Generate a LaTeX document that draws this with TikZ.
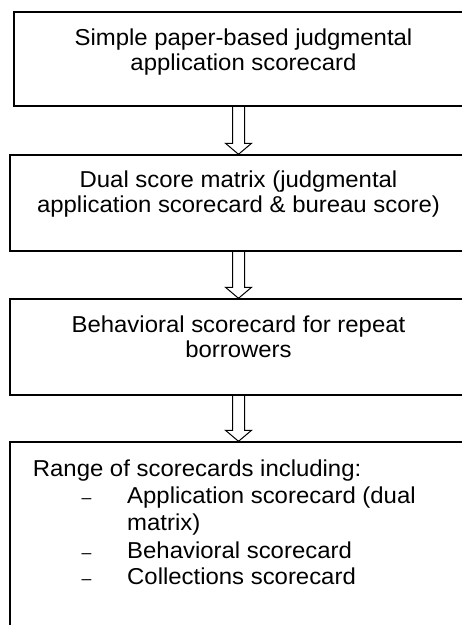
\documentclass[tikz,border=0pt]{standalone}
\usepackage{fontspec}
\setmainfont{Liberation Sans}[FakeStretch=1.04]
\usetikzlibrary{calc}
\tikzset{
  box/.style={draw=black, line width=1.4pt, rectangle, inner sep=0pt, fill=none},
  txt/.style={inner sep=0pt, anchor=base, font=\fontsize{23}{26}\selectfont},
  txtl/.style={txt, anchor=base west},
  dashmark/.style={inner sep=0pt, anchor=base west, font=\fontsize{17}{20}\selectfont},
  arrowshape/.style={draw=black, line width=1pt, line join=miter}
}
\newcommand\blockarrow[2]{%
  \draw[arrowshape] let \p1=(#1.south), \p2=(#2.north) in
    (\x2-6pt,\y1) -- (\x2-6pt,\y2+11pt) -- (\x2-13pt,\y2+11pt) -- (\x2,\y2)
    -- (\x2+13pt,\y2+11pt) -- (\x2+6pt,\y2+11pt) -- (\x2+6pt,\y1);}
\begin{document}
\begin{tikzpicture}[x=1pt,y=-1pt]
\useasboundingbox (0,0) rectangle (462,625);
\clip (0,0) rectangle (462,625);
\fill[white] (0,0) rectangle (462,625);
% boxes
\node[box, minimum width=459, minimum height=94] (b1) at (243.5,59) {};
\node[box, minimum width=457, minimum height=96] (b2) at (238.5,203) {};
\node[box, minimum width=457, minimum height=96] (b3) at (238.5,347) {};
\node[box, minimum width=457, minimum height=200] (b4) at (238.5,542) {};
% texts
\node[txt] (t1a) at (243.5,45) {Simple paper-based judgmental};
\node[txt] (t1b) at (243.5,70) {application scorecard};
\node[txt] (t2a) at (238.5,187) {Dual score matrix (judgmental};
\node[txt] (t2b) at (238.5,212) {application scorecard \& bureau score)};
\node[txt] (t3a) at (238.5,332) {Behavioral scorecard for repeat};
\node[txt] (t3b) at (238.5,357) {borrowers};
\node[txtl] (t4) at (32.7,476) {Range of scorecards including:};
\node[dashmark] (d1) at (81.5,503) {–};
\node[txtl] (i1a) at (127,503) {Application scorecard (dual};
\node[txtl] (i1b) at (127,530) {matrix)};
\node[dashmark] (d2) at (81.5,558) {–};
\node[txtl] (i2) at (127,558) {Behavioral scorecard};
\node[dashmark] (d3) at (81.5,584) {–};
\node[txtl] (i3) at (127,584) {Collections scorecard};
% arrows
\blockarrow{b1}{b2}
\blockarrow{b2}{b3}
\blockarrow{b3}{b4}
\end{tikzpicture}
\end{document}
